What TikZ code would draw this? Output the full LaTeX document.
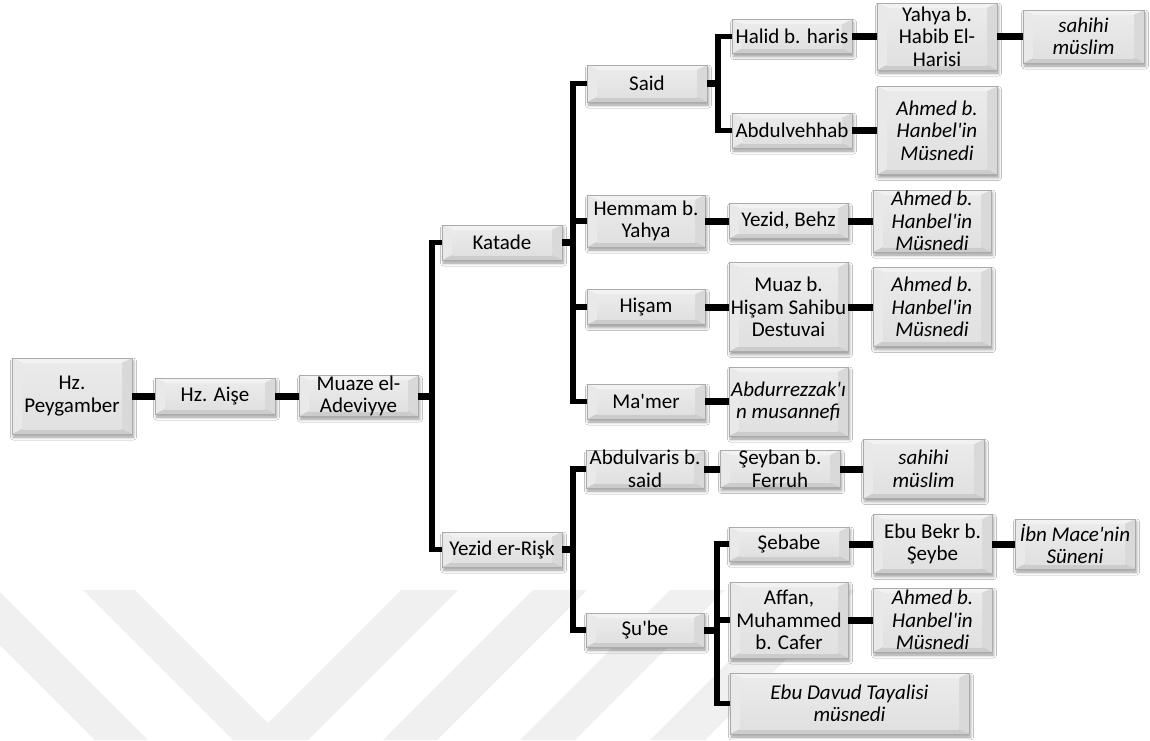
\documentclass[tikz,border=0pt]{standalone}
\usepackage{fontspec}
\setmainfont{Carlito}[Ligatures=TeXOff]
\usetikzlibrary{shadows.blur,calc}
\definecolor{wm}{HTML}{F0F0F0}
\definecolor{edgegray}{HTML}{ABABAB}
\tikzset{
  bevelpic/.style={path picture={
    \coordinate (pNW) at (path picture bounding box.north west);
    \coordinate (pNE) at (path picture bounding box.north east);
    \coordinate (pSE) at (path picture bounding box.south east);
    \coordinate (pSW) at (path picture bounding box.south west);
    \coordinate (iNW) at ($(pNW)+(10,5)$);
    \coordinate (iNE) at ($(pNE)+(-10,5)$);
    \coordinate (iSE) at ($(pSE)+(-10,-5)$);
    \coordinate (iSW) at ($(pSW)+(10,-5)$);
    \fill[gray!10] (pNW) -- (pNE) -- (iNE) -- (iNW) -- cycle;
    \fill[gray!40] (pSW) -- (pSE) -- (iSE) -- (iSW) -- cycle;
    \fill[gray!17] (pNW) -- (iNW) -- (iSW) -- (pSW) -- cycle;
    \fill[gray!30] (pNE) -- (iNE) -- (iSE) -- (pSE) -- cycle;
    \shade[top color=gray!16, middle color=white, bottom color=gray!24] (iNW) rectangle (iSE);
  }},
  bx/.style 2 args={minimum width=#1pt, minimum height=#2pt, inner sep=0pt,
    align=center, font=\fontsize{21}{22.5}\selectfont, draw=edgegray, line width=0.8pt,
    blur shadow={shadow xshift=1.5pt, shadow yshift=-3pt, shadow blur radius=3pt, shadow opacity=40},
    bevelpic},
  src/.style={font=\fontsize{21}{22.5}\selectfont\itshape},
  conn/.style={line width=5.5pt, line join=miter},
  stub/.style={line width=7pt},
  wmark/.style={fill=wm, draw=none}
}
\begin{document}
\begin{tikzpicture}[x=1pt, y=-1pt]
\useasboundingbox (0,0) rectangle (1150,740);
\fill[white] (0,0) rectangle (1150,740);
% watermark
\fill[wmark] (0,592) -- (148,740) -- (95,740) -- (0,645) -- cycle;
\fill[wmark] (83,590) -- (135,590) -- (268,723) -- (401,590) -- (458,590) -- (308,740) -- (233,740) -- cycle;
\fill[wmark] (533,590) -- (587,590) -- (437,740) -- (383,740) -- cycle;
\fill[wmark] (670,590) -- (725,590) -- (575,740) -- (520,740) -- cycle;
\fill[wmark] (800,590) -- (855,590) -- (705,740) -- (650,740) -- cycle;

% nodes
\node[bx={120}{76}] (peyg) at (72,396) {Hz.\\Peygamber};
\node[bx={120}{36}] (aise) at (215,396) {Hz. Aişe};
\node[bx={119}{36}] (muaze) at (358.5,396) {Muaze el-\\Adeviyye};
\node[bx={120}{35}] (katade) at (502,242.5) {Katade};
\node[bx={120}{35}] (yezidr) at (502,549.5) {Yezid er-Rişk};
\node[bx={120}{37}] (said) at (647,83.5) {Said};
\node[bx={118}{52}] (hemmam) at (646,221) {Hemmam b.\\Yahya};
\node[bx={118}{35}] (hisam) at (646,307) {Hişam};
\node[bx={118}{35}] (mamer) at (646,401.5) {Ma'mer};
\node[bx={120}{34}] (halid) at (792,36.5) {Halid b. haris};
\node[bx={120}{67}] (yahya) at (937,36.5) {Yahya b.\\Habib El-\\Harisi};
\node[bx={121}{53},src] (sahihiA) at (1083.5,36.5) {sahihi\\müslim};
\node[bx={120}{35}] (abdulv) at (792,130.5) {Abdulvehhab};
\node[bx={120}{88},src] (ahmedA) at (937,130.5) {Ahmed b.\\Hanbel'in\\Müsnedi};
\node[bx={119}{35}] (yezidb) at (788.5,221) {Yezid, Behz};
\node[bx={118}{62},src] (ahmedB) at (932,221) {Ahmed b.\\Hanbel'in\\Müsnedi};
\node[bx={119}{89}] (muaz) at (788.5,307) {Muaz b.\\Hişam Sahibu\\Destuvai};
\node[bx={118}{79},src] (ahmedC) at (932,307) {Ahmed b.\\Hanbel'in\\Müsnedi};
\node[bx={119}{69},src] (abdurr) at (788.5,401.5) {Abdurrezzak'ı\\n musannefi};
\node[bx={118}{38}] (abdulvaris) at (645,469) {Abdulvaris b.\\said};
\node[bx={120}{37}] (seyban) at (780,469) {Şeyban b.\\Ferruh};
\node[bx={121}{59},src] (sahihiB) at (923.5,469) {sahihi\\müslim};
\node[bx={118}{34}] (sube) at (645,630) {Şu'be};
\node[bx={120}{34}] (sebabe) at (789,544) {Şebabe};
\node[bx={119}{59}] (ebubekr) at (932.5,544) {Ebu Bekr b.\\Şeybe};
\node[bx={120}{50},src] (ibnmace) at (1075,544) {İbn Mace'nin\\Süneni};
\node[bx={118}{76}] (affan) at (789,620) {Affan,\\Muhammed\\b. Cafer};
\node[bx={119}{64},src] (ahmedD) at (932.5,620) {Ahmed b.\\Hanbel'in\\Müsnedi};
\node[bx={239}{61},src] (ebudavud) at (849.5,703.5) {Ebu Davud Tayalisi\\müsnedi};

% bracket points
\coordinate (b0) at (432,396);
\coordinate (b1) at (573,242.5);
\coordinate (b2) at (718,83.5);
\coordinate (b3) at (573,549.5);
\coordinate (b4) at (717,630);

% straight connectors
\draw[stub] (peyg.east) -- (aise.west);
\draw[stub] (aise.east) -- (muaze.west);
\draw[stub] (halid.east) -- (yahya.west);
\draw[stub] (yahya.east) -- (sahihiA.west);
\draw[stub] (abdulv.east) -- (ahmedA.west);
\draw[stub] (hemmam.east) -- (yezidb.west);
\draw[stub] (yezidb.east) -- (ahmedB.west);
\draw[stub] (hisam.east) -- (muaz.west);
\draw[stub] (muaz.east) -- (ahmedC.west);
\draw[stub] (mamer.east) -- (abdurr.west);
\draw[stub] (abdulvaris.east) -- (seyban.west);
\draw[stub] (seyban.east) -- (sahihiB.west);
\draw[stub] (sebabe.east) -- (ebubekr.west);
\draw[stub] (ebubekr.east) -- (ibnmace.west);
\draw[stub] (affan.east) -- (ahmedD.west);

% brackets
\draw[stub] (muaze.east) -- (b0);
\draw[conn] (b0) |- (katade.west);
\draw[conn] (b0) |- (yezidr.west);

\draw[stub] (katade.east) -- (b1);
\draw[conn] (b1) |- (said.west);
\draw[conn] (b1) |- (hemmam.west);
\draw[conn] (b1) |- (hisam.west);
\draw[conn] (b1) |- (mamer.west);

\draw[stub] (said.east) -- (b2);
\draw[conn] (b2) |- (halid.west);
\draw[conn] (b2) |- (abdulv.west);

\draw[stub] (yezidr.east) -- (b3);
\draw[conn] (b3) |- (abdulvaris.west);
\draw[conn] (b3) |- (sube.west);

\draw[stub] (sube.east) -- (b4);
\draw[conn] (b4) |- (sebabe.west);
\draw[conn] (b4) |- (affan.west);
\draw[conn] (b4) |- (ebudavud.west);
\end{tikzpicture}
\end{document}
